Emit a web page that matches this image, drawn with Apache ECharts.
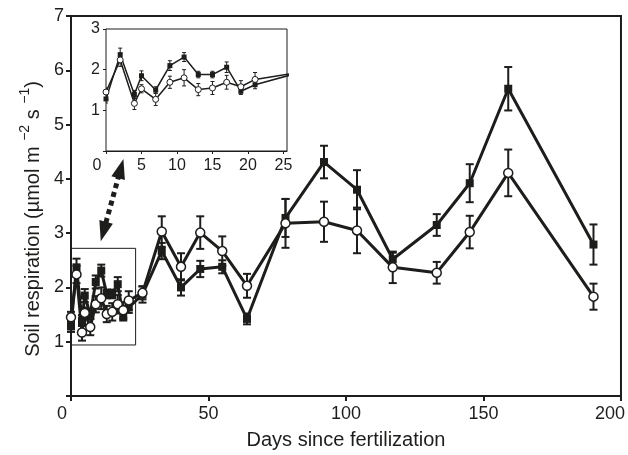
<!DOCTYPE html>
<html>
<head>
<meta charset="utf-8">
<script src="https://cdn.jsdelivr.net/npm/echarts@6/dist/echarts.min.js"></script>
<style>
html,body{margin:0;padding:0;background:#fff;}
#chart{width:628px;height:455px;}
</style>
</head>
<body>
<div id="chart"></div>
<script>
// ---- data ----
const days = [0, 2, 4, 5, 7, 9, 11, 13, 15, 17, 19, 21, 26, 33, 40, 47, 55, 64, 78, 92, 104, 117, 133, 145, 159, 190];
const fertilized = [1.28, 2.37, 1.39, 1.85, 1.50, 2.10, 2.31, 1.88, 1.88, 2.06, 1.47, 1.63, 1.87, 2.67, 2.00, 2.34, 2.38, 1.42, 3.28, 4.31, 3.80, 2.52, 3.15, 3.92, 5.66, 2.79];
const fertilizedErr = [0.10, 0.16, 0.10, 0.12, 0.08, 0.12, 0.11, 0.08, 0.08, 0.13, 0.08, 0.10, 0.15, 0.15, 0.15, 0.15, 0.12, 0.10, 0.35, 0.30, 0.36, 0.12, 0.20, 0.35, 0.40, 0.37];
const control = [1.45, 2.24, 1.17, 1.53, 1.27, 1.69, 1.80, 1.51, 1.55, 1.69, 1.58, 1.76, 1.90, 3.03, 2.38, 3.01, 2.67, 2.03, 3.18, 3.21, 3.05, 2.37, 2.27, 3.02, 4.11, 1.83];
const controlErr = [0.10, 0.16, 0.15, 0.10, 0.15, 0.15, 0.20, 0.15, 0.16, 0.17, 0.15, 0.17, 0.12, 0.28, 0.25, 0.30, 0.27, 0.22, 0.45, 0.37, 0.42, 0.29, 0.20, 0.30, 0.43, 0.24];
const mainXTicks = [0, 50, 100, 150, 200];
const mainYTicks = [0, 1, 2, 3, 4, 5, 6, 7];
const insetXTicks = [0, 5, 10, 15, 20, 25];
const insetYTicks = [0, 1, 2, 3];
const insetDayLimit = 26;

// ---- build ----
const INK = '#1d1d1b';
const FONT = '"Liberation Sans", Arial, Helvetica, sans-serif';
const pairs = (vals) => days.map((d, i) => [d, vals[i]]);
const errTriples = (vals, errs) => days.map((d, i) => [d, vals[i], errs[i]]);
const insetFilter = (arr) => arr.filter(p => p[0] <= insetDayLimit);

function errRenderer(cap, lw) {
  return function (params, api) {
    const x = api.value(0), y = api.value(1), e = api.value(2);
    const t = api.coord([x, y + e]);
    const b = api.coord([x, y - e]);
    const st = { stroke: INK, lineWidth: lw };
    return {
      type: 'group',
      children: [
        { type: 'line', shape: { x1: t[0], y1: t[1], x2: b[0], y2: b[1] }, style: st },
        { type: 'line', shape: { x1: t[0] - cap / 2, y1: t[1], x2: t[0] + cap / 2, y2: t[1] }, style: st },
        { type: 'line', shape: { x1: b[0] - cap / 2, y1: b[1], x2: b[0] + cap / 2, y2: b[1] }, style: st }
      ]
    };
  };
}

const axisText = { color: INK, fontFamily: FONT };

const option = {
  animation: false,
  backgroundColor: '#fff',
  grid: [
    { left: 71, right: 7, top: 16, bottom: 58, show: true, borderColor: INK, borderWidth: 2, backgroundColor: 'transparent' },
    { left: 106, right: 341, top: 29, bottom: 304, show: true, borderColor: INK, borderWidth: 1, backgroundColor: '#fff', z: 5 }
  ],
  xAxis: [
    {
      type: 'value', gridIndex: 0, min: mainXTicks[0], max: mainXTicks[mainXTicks.length - 1], interval: mainXTicks[1] - mainXTicks[0],
      axisLine: { show: true, onZero: false, lineStyle: { color: INK, width: 2 } },
      axisTick: { show: true, inside: false, length: 5, lineStyle: { color: INK, width: 2 } },
      splitLine: { show: false },
      axisLabel: {
        fontSize: 18, margin: 9, ...axisText,
        formatter: v => v === 0 ? '{l|0}' : (v === 200 ? '{r|200}' : String(v)),
        rich: {
          l: { fontSize: 18, fontFamily: FONT, color: INK, padding: [0, 18, 0, 0] },
          r: { fontSize: 18, fontFamily: FONT, color: INK, padding: [0, 22, 0, 0] }
        }
      },
      name: 'Days since fertilization', nameLocation: 'middle', nameGap: 34,
      nameTextStyle: { fontSize: 20, ...axisText }
    },
    {
      type: 'value', gridIndex: 1, min: 0, max: 25.5, interval: insetXTicks[1] - insetXTicks[0],
      axisLine: { show: true, onZero: false, lineStyle: { color: INK, width: 1 } },
      axisTick: { show: true, inside: false, length: 3, lineStyle: { color: INK, width: 1 } },
      splitLine: { show: false },
      axisLabel: {
        fontSize: 16, margin: 7, ...axisText, showMaxLabel: false,
        formatter: v => insetXTicks.includes(v) ? (v === 0 ? '{l|0}' : String(v)) : '',
        rich: { l: { fontSize: 16, fontFamily: FONT, color: INK, padding: [0, 18, 0, 0] } }
      }
    }
  ],
  yAxis: [
    {
      type: 'value', gridIndex: 0, min: mainYTicks[0], max: mainYTicks[mainYTicks.length - 1], interval: 1,
      axisLine: { show: true, onZero: false, lineStyle: { color: INK, width: 2 } },
      axisTick: { show: true, inside: false, length: 5, lineStyle: { color: INK, width: 2 } },
      splitLine: { show: false },
      axisLabel: { fontSize: 18, margin: 7, ...axisText, formatter: v => v === 0 ? '' : String(v) },
      name: 'Soil respiration (µmol m {s|−2} s {s|−1})',
      nameLocation: 'middle', nameGap: 16,
      nameTextStyle: {
        ...axisText, fontSize: 20, padding: [0, 26, 0, 0],
        rich: {
          s: { fontSize: 14, fontFamily: FONT, color: INK, padding: [0, 0, 16, 0] }
        }
      }
    },
    {
      type: 'value', gridIndex: 1, min: insetYTicks[0], max: insetYTicks[insetYTicks.length - 1], interval: 1,
      axisLine: { show: true, onZero: false, lineStyle: { color: INK, width: 1 } },
      axisTick: { show: true, inside: false, length: 3, lineStyle: { color: INK, width: 1 } },
      splitLine: { show: false },
      axisLabel: { fontSize: 16, margin: 6, ...axisText, formatter: v => v === 0 ? '' : String(v) }
    }
  ],
  series: [
    // main error bars
    { type: 'custom', xAxisIndex: 0, yAxisIndex: 0, z: 2, silent: true, data: errTriples(fertilized, fertilizedErr), renderItem: errRenderer(8, 2), encode: { x: 0, y: 1 } },
    { type: 'custom', xAxisIndex: 0, yAxisIndex: 0, z: 2, silent: true, data: errTriples(control, controlErr), renderItem: errRenderer(8, 2), encode: { x: 0, y: 1 } },
    {
      type: 'line', name: 'Fertilized', xAxisIndex: 0, yAxisIndex: 0, z: 3,
      data: pairs(fertilized), symbol: 'rect', symbolSize: 8, showAllSymbol: true,
      lineStyle: { color: INK, width: 3 }, itemStyle: { color: INK, borderWidth: 0 },
      markArea: {
        silent: true,
        itemStyle: { color: 'rgba(0,0,0,0)', borderColor: INK, borderWidth: 1 },
        data: [[{ coord: [0, 0.94] }, { coord: [23.5, 2.72] }]]
      },
      markLine: {
        silent: true, symbol: ['triangle', 'triangle'], symbolSize: [14, 20],
        label: { show: false },
        lineStyle: { color: INK, width: 5, type: [5, 4] },
        data: [[{ coord: [11.8, 3.03] }, { coord: [18.1, 4.19] }]]
      }
    },
    {
      type: 'line', name: 'Control', xAxisIndex: 0, yAxisIndex: 0, z: 4,
      data: pairs(control), symbol: 'circle', symbolSize: 9, showAllSymbol: true,
      lineStyle: { color: INK, width: 3 }, itemStyle: { color: '#fff', borderColor: INK, borderWidth: 1.5 }
    },
    // inset
    { type: 'custom', xAxisIndex: 1, yAxisIndex: 1, z: 6, silent: true, clip: true, data: insetFilter(errTriples(fertilized, fertilizedErr)), renderItem: errRenderer(4, 1), encode: { x: 0, y: 1 } },
    { type: 'custom', xAxisIndex: 1, yAxisIndex: 1, z: 6, silent: true, clip: true, data: insetFilter(errTriples(control, controlErr)), renderItem: errRenderer(4, 1), encode: { x: 0, y: 1 } },
    {
      type: 'line', name: 'Fertilized inset', xAxisIndex: 1, yAxisIndex: 1, z: 7, clip: true,
      data: insetFilter(pairs(fertilized)), symbol: 'rect', symbolSize: 5, showAllSymbol: true,
      lineStyle: { color: INK, width: 1.5 }, itemStyle: { color: INK, borderWidth: 0 }
    },
    {
      type: 'line', name: 'Control inset', xAxisIndex: 1, yAxisIndex: 1, z: 8, clip: true,
      data: insetFilter(pairs(control)), symbol: 'circle', symbolSize: 6, showAllSymbol: true,
      lineStyle: { color: INK, width: 1.5 }, itemStyle: { color: '#fff', borderColor: INK, borderWidth: 1 }
    }
  ]
};

const chart = echarts.init(document.getElementById('chart'), null, { renderer: 'canvas' });
chart.setOption(option);
</script>
</body>
</html>
